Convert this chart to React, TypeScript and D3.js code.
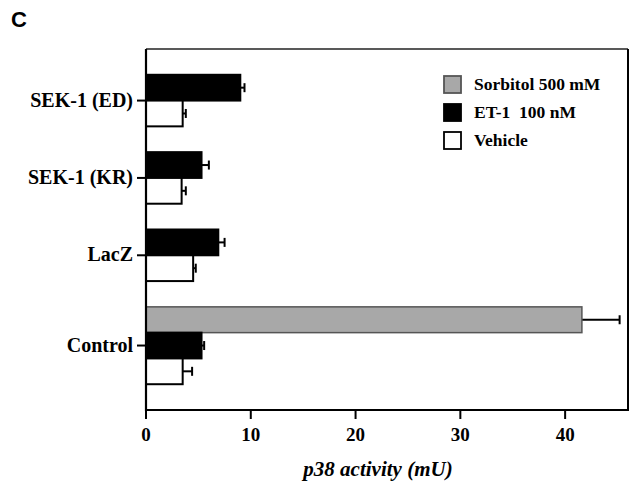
import * as d3 from "d3";

// ─── data ────────────────────────────────────────────────────────────────
const categories = ["SEK-1 (ED)", "SEK-1 (KR)", "LacZ", "Control"];
const seriesNames = ["Sorbitol 500 mM", "ET-1  100 nM", "Vehicle"];
const sorbitol: (number | null)[] = [null, null, null, 41.6];
const sorbitolErr: (number | null)[] = [null, null, null, 3.6];
const et1 = [9.0, 5.3, 6.9, 5.3];
const et1Err = [0.4, 0.7, 0.6, 0.25];
const vehicle = [3.5, 3.4, 4.5, 3.5];
const vehicleErr = [0.3, 0.4, 0.25, 0.9];
const xTicks = [0, 10, 20, 30, 40];

const W = 641;
const H = 486;
const left = 146, right = 628, top = 49, bottom = 410;

const serif = "'Palatino Linotype', 'Book Antiqua', 'Liberation Serif', 'DejaVu Serif', serif";
const fills = ["#a8a8a8", "#000", "#fff"];
const strokes = ["#555", "#000", "#000"];

interface Row { cat: number; s: number; v: number; e: number; slot: number }

// one slot per bar, with an empty slot between groups (and at top/bottom)
const rows: Row[] = [];
const groupSlots: number[][] = [];
let slot = 1;
categories.forEach((_, i) => {
  const vals = [sorbitol[i], et1[i], vehicle[i]];
  const errs = [sorbitolErr[i], et1Err[i], vehicleErr[i]];
  const mine: number[] = [];
  vals.forEach((v, s) => {
    if (v == null) return;
    rows.push({ cat: i, s, v, e: errs[s] ?? 0, slot });
    mine.push(slot);
    slot++;
  });
  groupSlots.push(mine);
  slot++;
});

export default function App() {
  const x = d3.scaleLinear().domain([0, 46]).range([left, right]);
  const y = d3.scaleBand<number>().domain(d3.range(slot)).range([top, bottom]);
  const bh = y.bandwidth();
  const groupMid = groupSlots.map((g) => ((y(g[0]) ?? 0) + (y(g[g.length - 1]) ?? 0) + bh) / 2);

  return (
    <svg width={W} height={H} style={{ position: "absolute", left: 0, top: 0, background: "#fff" }}>
      <text x={11} y={27} fontFamily="'Liberation Sans', Arial, sans-serif" fontWeight={700} fontSize={22}>C</text>

      {/* bars */}
      {rows.map((r, i) => {
        const y0 = y(r.slot) ?? 0;
        const cy = y0 + bh / 2;
        const x1 = x(r.v);
        const x2 = x(r.v + r.e);
        return (
          <g key={i}>
            <line x1={x1} x2={x2} y1={cy} y2={cy} stroke="#000" strokeWidth={2} />
            <line x1={x2} x2={x2} y1={cy - 4.5} y2={cy + 4.5} stroke="#000" strokeWidth={2} />
            <rect x={x(0)} y={y0} width={x1 - x(0)} height={bh}
              fill={fills[r.s]} stroke={strokes[r.s]} strokeWidth={r.s === 0 ? 1.5 : 2} />
          </g>
        );
      })}

      {/* frame */}
      <line x1={left} x2={right} y1={top} y2={top} stroke="#222" strokeWidth={1.6} />
      <line x1={right} x2={right} y1={top} y2={bottom} stroke="#000" strokeWidth={2} />
      <line x1={left} x2={left} y1={top} y2={bottom + 1} stroke="#000" strokeWidth={2.2} />
      <line x1={left - 1} x2={right + 1} y1={bottom} y2={bottom} stroke="#000" strokeWidth={2.2} />

      {/* x axis */}
      {xTicks.map((t) => (
        <g key={t}>
          <line x1={x(t)} x2={x(t)} y1={bottom} y2={bottom + 9} stroke="#000" strokeWidth={2} />
          <text x={x(t)} y={441} textAnchor="middle" fontFamily={serif} fontWeight={700} fontSize={19}>{t}</text>
        </g>
      ))}
      <text x={378} y={476} textAnchor="middle" fontFamily={serif} fontWeight={700} fontStyle="italic" fontSize={21}>
        p38 activity (mU)
      </text>

      {/* y axis */}
      {categories.map((c, i) => (
        <g key={c}>
          <line x1={left - 9} x2={left} y1={groupMid[i]} y2={groupMid[i]} stroke="#000" strokeWidth={2} />
          <text x={left - 13} y={groupMid[i] + 6} textAnchor="end" fontFamily={serif} fontWeight={700} fontSize={20}>{c}</text>
        </g>
      ))}

      {/* legend */}
      {seriesNames.map((n, i) => (
        <g key={n} transform={`translate(444,${76 + i * 28})`}>
          <rect x={0} y={0} width={17} height={17} fill={fills[i]} stroke={strokes[i]} strokeWidth={1.8} />
          <text x={30} y={14} fontFamily={serif} fontWeight={700} fontSize={17.5} style={{ whiteSpace: "pre" }}>{n}</text>
        </g>
      ))}
    </svg>
  );
}
